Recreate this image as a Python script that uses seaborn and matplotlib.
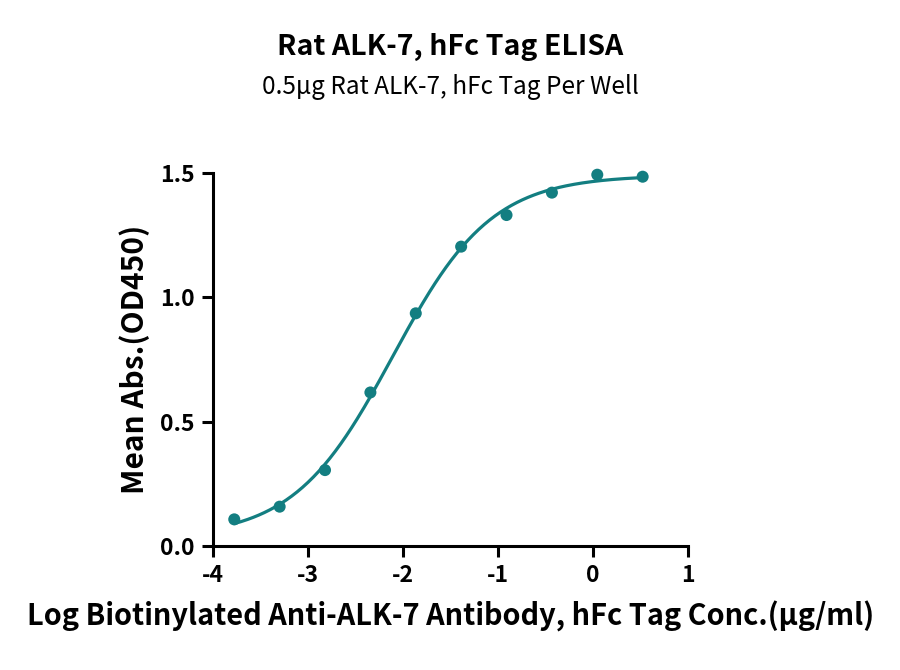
import numpy as np
import pandas as pd
import matplotlib
matplotlib.use("Agg")
import matplotlib.pyplot as plt
import seaborn as sns

# ==========================================
# Data
# ==========================================

log_conc = [-3.773, -3.296, -2.819, -2.342, -1.865, -1.388, -0.911, -0.434, 0.043, 0.520]
mean_abs = [0.107, 0.158, 0.305, 0.617, 0.935, 1.203, 1.330, 1.420, 1.492, 1.484]

x_ticks = [-4, -3, -2, -1, 0, 1]
y_ticks = [0.0, 0.5, 1.0, 1.5]

teal = "#137e81"


# ==========================================
# 4PL fit (plain Levenberg-Marquardt in numpy)
# ==========================================

def four_pl(x, p):
    bottom, top, logec50, hill = p
    return bottom + (top - bottom) / (1 + 10 ** ((logec50 - x) * hill))


def fit_4pl(x, y, p0):
    p = np.array(p0, dtype=float)
    lam = 1e-3
    for _ in range(300):
        r = y - four_pl(x, p)
        J = np.empty((len(x), len(p)))
        for k in range(len(p)):
            dp = np.zeros_like(p)
            dp[k] = 1e-6
            J[:, k] = (four_pl(x, p + dp) - four_pl(x, p - dp)) / 2e-6
        A = J.T @ J
        step = np.linalg.solve(A + lam * np.diag(np.diag(A)), J.T @ r)
        new_p = p + step
        if np.sum((y - four_pl(x, new_p)) ** 2) < np.sum(r ** 2):
            p = new_p
            lam *= 0.5
        else:
            lam *= 4
    return p


xs = np.array(log_conc)
ys = np.array(mean_abs)
params = fit_4pl(xs, ys, [0.05, 1.5, -2.1, 1.0])

curve_x = np.linspace(xs.min(), xs.max(), 300)
curve = pd.DataFrame({"x": curve_x, "y": four_pl(curve_x, params)})
points = pd.DataFrame({"x": xs, "y": ys})


# ==========================================
# Plot
# ==========================================

sns.set_theme(style="ticks")
plt.rcParams["font.family"] = ["Noto Sans CJK SC", "DejaVu Sans"]
plt.rcParams["text.color"] = "black"
plt.rcParams["axes.labelcolor"] = "black"
plt.rcParams["xtick.color"] = "black"
plt.rcParams["ytick.color"] = "black"

fig = plt.figure(figsize=(9, 6.7), dpi=100)
ax = fig.add_axes([0.2363, 0.1851, 0.5285, 0.5571])

sns.lineplot(data=curve, x="x", y="y", color=teal, linewidth=2.3, ax=ax)
sns.scatterplot(data=points, x="x", y="y", color=teal, s=75,
                edgecolor="none", ax=ax, clip_on=False, zorder=3)

ax.set_xlim(-4, 1)
ax.set_ylim(0, 1.5)
ax.set_xticks(x_ticks)
ax.set_yticks(y_ticks)
ax.set_xticklabels([str(t) for t in x_ticks], fontsize=16.5, fontweight="bold")
ax.set_yticklabels([f"{t:.1f}" for t in y_ticks], fontsize=16.5, fontweight="bold")

for side in ["left", "bottom"]:
    ax.spines[side].set_linewidth(2.2)
    ax.spines[side].set_color("black")
sns.despine(ax=ax)

ax.tick_params(axis="both", direction="out", length=8, width=2.2,
               color="black", pad=5)

ax.set_xlabel("Log Biotinylated Anti-ALK-7 Antibody, hFc Tag Conc.(μg/ml)",
              fontsize=20.8, fontweight="bold", labelpad=10)
ax.set_ylabel("Mean Abs.(OD450)", fontsize=21.5, fontweight="bold", labelpad=7)

fig.text(0.5, 1 - 47 / 670, "Rat ALK-7, hFc Tag ELISA",
         ha="center", va="center", fontsize=20.5, fontweight="bold")
fig.text(0.5, 1 - 87 / 670, "0.5μg Rat ALK-7, hFc Tag Per Well",
         ha="center", va="center", fontsize=17.5, fontweight="medium")

fig.savefig("out.png", dpi=100, facecolor="white")
